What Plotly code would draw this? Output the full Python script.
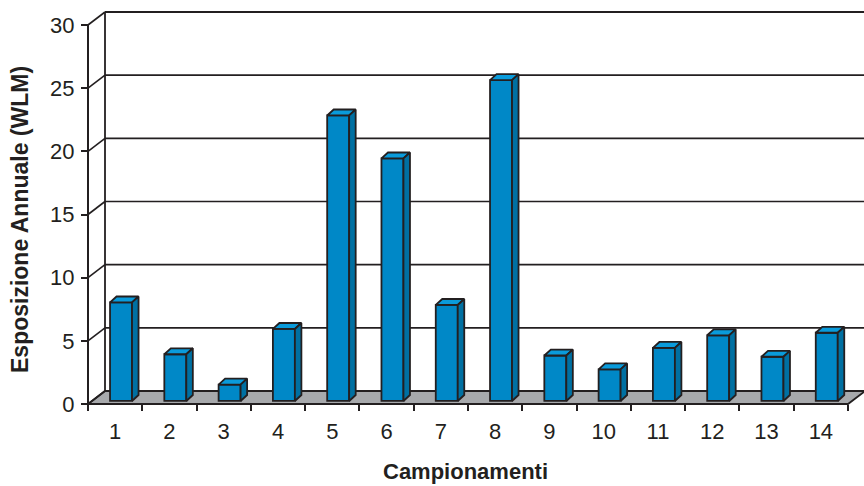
import plotly.graph_objects as go

# Campionamenti (sample number) and annual exposure in WLM
campioni = [str(i) for i in range(1, 15)]
esposizione = [7.8, 3.7, 1.3, 5.7, 22.6, 19.2, 7.6, 25.4, 3.6, 2.5, 4.2, 5.2, 3.5, 5.4]
y_ticks = [0, 5, 10, 15, 20, 25, 30]

# pseudo-3D geometry (x in category units, y in value units)
PX_X = 54.286           # pixels per category
PX_Y = 12.633           # pixels per WLM
DEPTH_X = 17 / PX_X     # depth of the floor / side wall
DEPTH_Y = 13 / PX_Y
BAR_LEFT = -0.094       # front face offset from category centre
BAR_W = 0.405
BAR_BASE = 0.24         # front face sits slightly back on the floor
BAR_DX = 0.12           # bar depth
BAR_DY = 0.47

FRONT = "#0088C7"
TOP = "#0A9BDB"
SIDE = "#0070A2"
EDGE = "#231F20"
FLOOR = "#A7A9AC"

n = len(campioni)
pos = list(range(1, n + 1))
x_lo, x_hi = 0.5, n + 0.5
y_top = y_ticks[-1]

ML, MB = 86, 80
W, H = 864, 486
x_range = [x_lo - 2 / PX_X, x_lo - 2 / PX_X + (W - ML) / PX_X]
y_range = [-2 / PX_Y, -2 / PX_Y + (H - MB) / PX_Y]

fig = go.Figure()

# front faces of the bars
fig.add_trace(go.Bar(
    x=pos, y=esposizione, base=BAR_BASE, width=BAR_W, offset=BAR_LEFT,
    marker=dict(color=FRONT, line=dict(color=EDGE, width=1.8)),
    hoverinfo="skip", showlegend=False,
))

# top and side faces
tx, ty, sx, sy = [], [], [], []
for p, v in zip(pos, esposizione):
    xl = p + BAR_LEFT
    xr = xl + BAR_W
    b = BAR_BASE
    t = BAR_BASE + v
    tx += [xl, xr, xr + BAR_DX, xl + BAR_DX, xl, None]
    ty += [t, t, t + BAR_DY, t + BAR_DY, t, None]
    sx += [xr, xr + BAR_DX, xr + BAR_DX, xr, xr, None]
    sy += [b, b + BAR_DY, t + BAR_DY, t, b, None]

fig.add_trace(go.Scatter(x=tx, y=ty, mode="lines", fill="toself", fillcolor=TOP,
                         line=dict(color=EDGE, width=1.8), hoverinfo="skip",
                         showlegend=False))
fig.add_trace(go.Scatter(x=sx, y=sy, mode="lines", fill="toself", fillcolor=SIDE,
                         line=dict(color=EDGE, width=1.8), hoverinfo="skip",
                         showlegend=False))

shapes = []
# floor
shapes.append(dict(
    type="path", layer="below", fillcolor=FLOOR, line=dict(color=EDGE, width=1.8),
    path=f"M {x_lo},0 L {x_hi},0 L {x_hi + DEPTH_X},{DEPTH_Y} L {x_lo + DEPTH_X},{DEPTH_Y} Z",
))
# back wall gridlines and side-wall diagonals
for v in y_ticks:
    if v > 0:
        shapes.append(dict(type="line", layer="below", x0=x_lo + DEPTH_X, x1=x_range[1] + 1,
                           y0=v + DEPTH_Y, y1=v + DEPTH_Y,
                           line=dict(color=EDGE, width=2.0 if v == y_top else 1.6)))
    shapes.append(dict(type="line", layer="below", x0=x_lo, x1=x_lo + DEPTH_X,
                       y0=v, y1=v + DEPTH_Y, line=dict(color=EDGE, width=1.6)))
# back wall left edge and front value axis
shapes.append(dict(type="line", layer="below", x0=x_lo + DEPTH_X, x1=x_lo + DEPTH_X,
                   y0=DEPTH_Y, y1=y_top + DEPTH_Y, line=dict(color=EDGE, width=1.8)))
shapes.append(dict(type="line", layer="below", x0=x_lo, x1=x_lo,
                   y0=0, y1=y_top, line=dict(color=EDGE, width=2.0)))
shapes.append(dict(type="line", layer="below", x0=x_lo, x1=x_hi,
                   y0=0, y1=0, line=dict(color=EDGE, width=2.0)))

fig.update_layout(
    width=W, height=H,
    margin=dict(l=ML, r=0, t=0, b=MB, pad=0),
    paper_bgcolor="white", plot_bgcolor="white",
    font=dict(family="Liberation Sans, Arial, sans-serif", color=EDGE),
    shapes=shapes,
    xaxis=dict(
        range=x_range, anchor="free", position=2 / (H - MB),
        tickvals=pos, ticktext=campioni, ticks="", showgrid=False, zeroline=False,
        showline=False, tickfont=dict(size=22), ticklabelstandoff=12,
        minor=dict(tickvals=[p + 0.5 for p in [0] + pos], ticks="outside",
                   ticklen=6, tickwidth=1.8, tickcolor=EDGE, showgrid=False),
    ),
    yaxis=dict(
        range=y_range, anchor="free", position=2 / (W - ML),
        tickvals=y_ticks, ticks="outside", ticklen=7, tickwidth=1.8, tickcolor=EDGE,
        showgrid=False, zeroline=False, showline=False, tickfont=dict(size=22),
        ticklabelstandoff=2,
    ),
    annotations=[
        dict(text="<b>Esposizione Annuale (WLM)</b>", textangle=-90,
             xref="paper", x=0, xanchor="center", xshift=22 - ML - 2,
             yref="paper", y=(H - MB - 220) / (H - MB), yanchor="middle",
             showarrow=False, font=dict(size=23)),
        dict(text="<b>Campionamenti</b>",
             xref="paper", x=(465 - ML) / (W - ML), xanchor="center",
             yref="paper", y=(H - MB - 472) / (H - MB), yanchor="middle",
             showarrow=False, font=dict(size=22)),
    ],
)

fig.write_html("out.html")
